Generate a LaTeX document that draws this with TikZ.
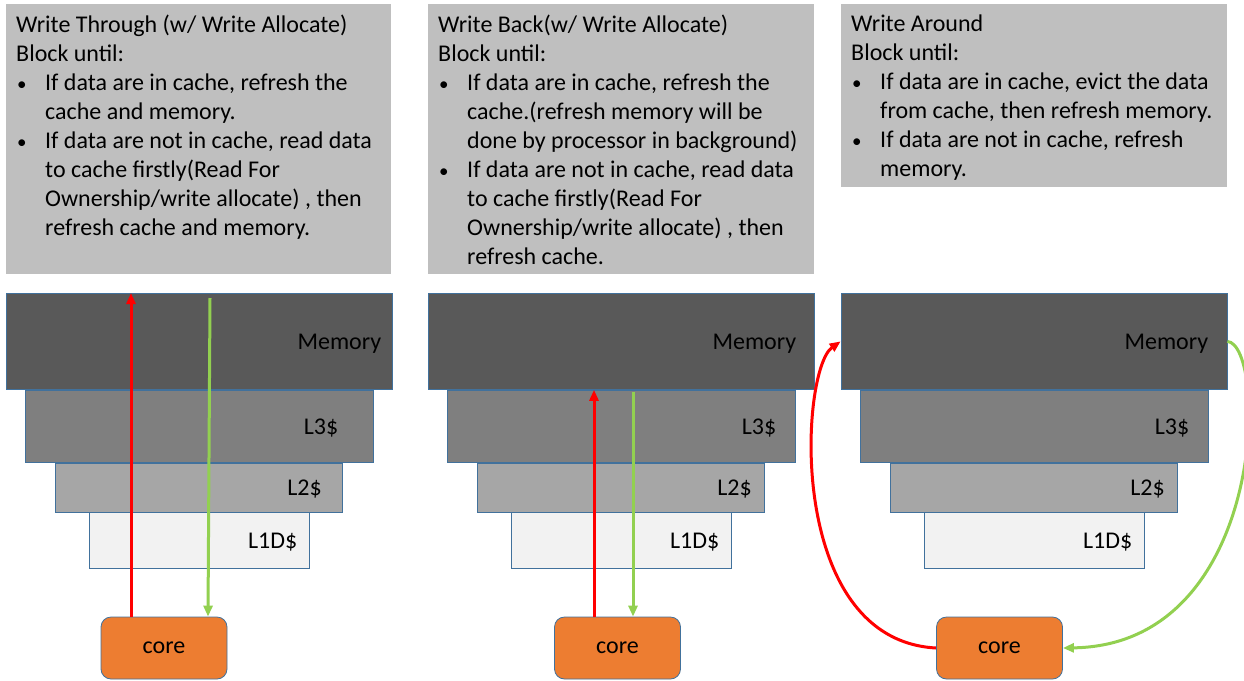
\documentclass[tikz,border=0pt]{standalone}
\usepackage{fontspec}
\setmainfont{Carlito}
\usetikzlibrary{positioning, arrows.meta}
\definecolor{notegray}{HTML}{BFBFBF}
\definecolor{memgray}{HTML}{595959}
\definecolor{lthreegray}{HTML}{7F7F7F}
\definecolor{ltwogray}{HTML}{A6A6A6}
\definecolor{lonegray}{HTML}{F2F2F2}
\definecolor{edgeblue}{HTML}{41719C}
\definecolor{coreorange}{HTML}{ED7D31}
\definecolor{readgreen}{HTML}{92D050}
\newcommand{\bulitem}{\makebox[29pt][l]{\hspace{1pt}{\fontsize{19pt}{19pt}\selectfont\textbullet}}}
\newcommand{\bulcont}{\hspace*{29pt}}

\begin{document}
\begin{tikzpicture}[x=1pt, y=-1pt,
                    font=\fontsize{24pt}{29pt}\selectfont,
                    note/.style={rectangle, fill=notegray, inner sep=0pt, anchor=north west},
                    notetext/.style={align=left, inner sep=0pt, anchor=north west},
                    level/.style={rectangle, draw=edgeblue, line width=0.8pt, inner sep=0pt, anchor=north},
                    levellabel/.style={inner sep=0pt, anchor=base east},
                    core/.style={rectangle, rounded corners=10pt, fill=coreorange, draw=edgeblue,
                                 line width=0.8pt, minimum width=126pt, minimum height=62pt},
                    writeup/.style={draw=red, line width=3pt, -{Triangle[length=11pt, width=9pt]}},
                    readdown/.style={draw=readgreen, line width=3pt, -{Triangle[length=11pt, width=9pt]}}]
    \useasboundingbox (0,0) rectangle (1244,680);

    % policy descriptions
    \node (wtbox) [note, minimum width=385pt, minimum height=270pt] at (6,4)   {};
    \node (wbbox) [note, minimum width=386pt, minimum height=270pt] at (428,4) {};
    \node (wabox) [note, minimum width=386pt, minimum height=183pt] at (841,4) {};

    \node (wttext) [notetext] at ([xshift=10pt, yshift=-11pt]wtbox.north west)
        {Write Through (w/ Write Allocate)\\
         Block until:\\
         \bulitem If data are in cache, refresh the\\
         \bulcont cache and memory.\\
         \bulitem If data are not in cache, read data\\
         \bulcont to cache firstly(Read For\\
         \bulcont Ownership/write allocate) , then\\
         \bulcont refresh cache and memory.};
    \node (wbtext) [notetext] at ([xshift=10pt, yshift=-11pt]wbbox.north west)
        {Write Back(w/ Write Allocate)\\
         Block until:\\
         \bulitem If data are in cache, refresh the\\
         \bulcont cache.(refresh memory will be\\
         \bulcont done by processor in background)\\
         \bulitem If data are not in cache, read data\\
         \bulcont to cache firstly(Read For\\
         \bulcont Ownership/write allocate) , then\\
         \bulcont refresh cache.};
    \node (watext) [notetext] at ([xshift=10pt, yshift=-11pt]wabox.north west)
        {Write Around\\
         Block until:\\
         \bulitem If data are in cache, evict the data\\
         \bulcont from cache, then refresh memory.\\
         \bulitem If data are not in cache, refresh\\
         \bulcont memory.};

    % memory hierarchy, one stack per policy
    \foreach \i/\x/\dm/\dth/\dtw in {1/199/11/35/21, 2/621/18/19/13, 3/1034/19/19/13} {
        \node (mem\i) [level, fill=memgray,    minimum width=386pt, minimum height=96pt] at (\x,293) {};
        \node (lthree\i) [level, fill=lthreegray, minimum width=348pt, minimum height=72pt, below=0pt of mem\i] {};
        \node (ltwo\i) [level, fill=ltwogray,  minimum width=287pt, minimum height=49pt, below=0pt of lthree\i] {};
        \node (lone\i) [level, fill=lonegray,  minimum width=220pt, minimum height=56pt, below=0pt of ltwo\i] {};
        \node [levellabel] at ([xshift=-\dm pt, yshift=-8pt]mem\i.east)     {Memory};
        \node [levellabel] at ([xshift=-\dth pt, yshift=-8pt]lthree\i.east) {L3\$};
        \node [levellabel] at ([xshift=-\dtw pt, yshift=-8pt]ltwo\i.east)   {L2\$};
        \node [levellabel] at ([xshift=-12pt, yshift=-8pt]lone\i.east)      {L1D\$};
    }

    \node (core1) [core] at (164,648)   {core};
    \node (core2) [core] at (617.5,648) {core};
    \node (core3) [core] at (999.5,648) {core};

    % write through
    \draw[writeup]  ([xshift=-33pt]core1.north) -- ([xshift=-33pt]core1.north |- mem1.north);
    \draw[readdown] ([xshift=46pt, yshift=-5pt]core1.north |- mem1.north) -- ([xshift=44pt]core1.north);
    % write back
    \draw[writeup]  ([xshift=-23.5pt]core2.north) -- ([xshift=-23.5pt]core2.north |- mem2.south);
    \draw[readdown] ([xshift=15.5pt, yshift=-2pt]core2.north |- mem2.south) -- ([xshift=15.5pt]core2.north);
    % write around
    \draw[writeup]  (core3.west) .. controls (785,640) and (800,370) .. (mem3.west);
    \draw[readdown] (mem3.east) .. controls (1268,345) and (1268,645) .. (core3.east);
\end{tikzpicture}
\end{document}
